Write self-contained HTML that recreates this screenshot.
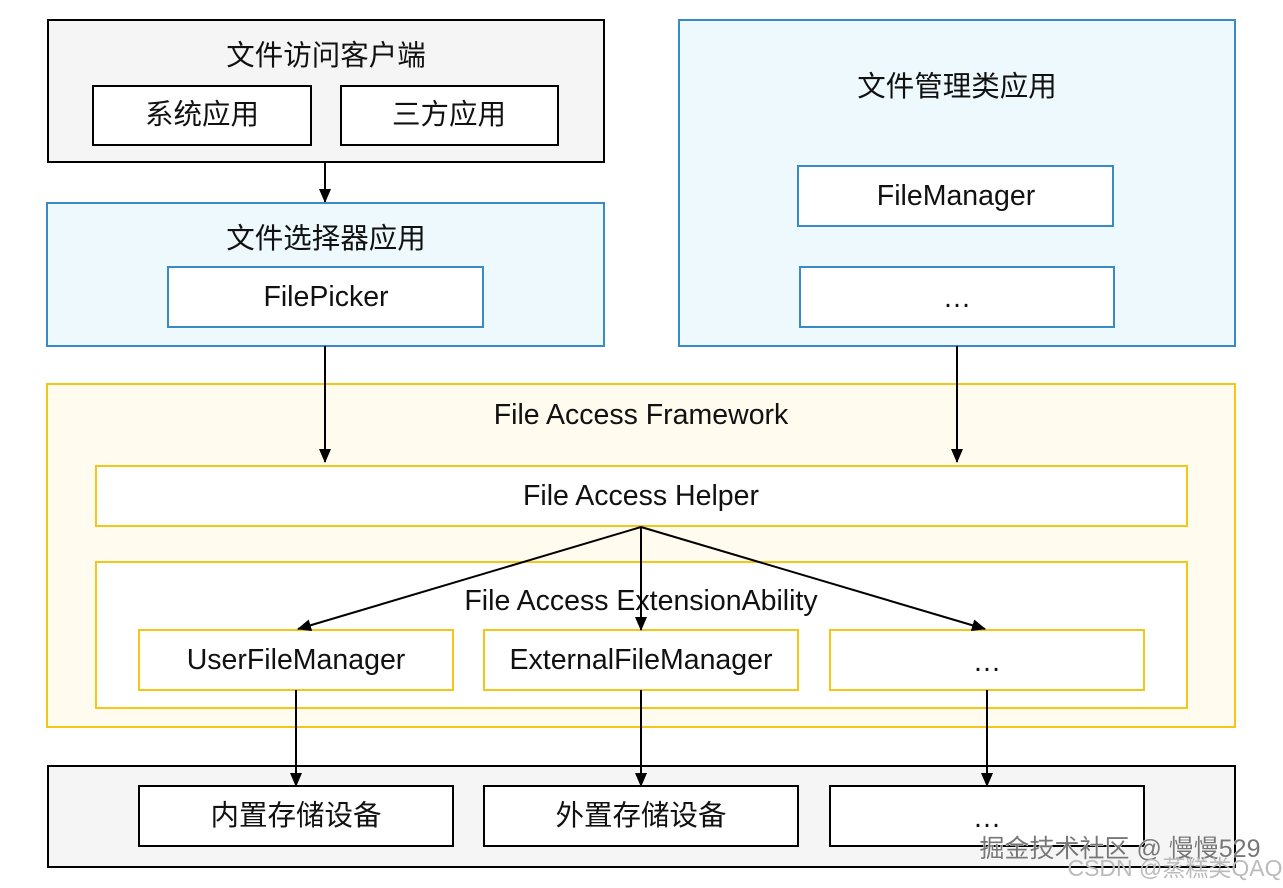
<!DOCTYPE html>
<html><head><meta charset="utf-8"><style>
html,body{margin:0;padding:0;background:#fff}
svg{display:block}
text{font-family:"Liberation Sans","Noto Sans CJK SC",sans-serif;font-size:28.5px;fill:#111;text-anchor:middle;dominant-baseline:central}
</style></head><body>
<svg width="1283" height="888" viewBox="0 0 1283 888" xmlns="http://www.w3.org/2000/svg">
<defs><marker id="a" markerWidth="14" markerHeight="14" refX="13" refY="6" orient="auto" markerUnits="userSpaceOnUse"><path d="M0,0 L14,6 L0,12 z" fill="#000"/></marker></defs>
<rect x="48" y="20" width="556" height="142" fill="#f5f5f5" stroke="#000" stroke-width="2"/>
<text x="326" y="56">文件访问客户端</text>
<rect x="93" y="86" width="218" height="59" fill="#fff" stroke="#000" stroke-width="2"/>
<text x="202" y="115">系统应用</text>
<rect x="341" y="86" width="217" height="59" fill="#fff" stroke="#000" stroke-width="2"/>
<text x="449" y="115">三方应用</text>
<line x1="325" y1="162" x2="325" y2="202" stroke="#000" stroke-width="2" marker-end="url(#a)"/>
<rect x="47" y="203" width="557" height="143" fill="#eef9fd" stroke="#3a8ac8" stroke-width="2"/>
<text x="326" y="239">文件选择器应用</text>
<rect x="168" y="267" width="315" height="60" fill="#fff" stroke="#3a8ac8" stroke-width="2"/>
<text x="326" y="297">FilePicker</text>
<rect x="679" y="20" width="556" height="326" fill="#eef9fd" stroke="#3a8ac8" stroke-width="2"/>
<text x="957" y="87">文件管理类应用</text>
<rect x="798" y="166" width="315" height="60" fill="#fff" stroke="#3a8ac8" stroke-width="2"/>
<text x="956" y="196">FileManager</text>
<rect x="800" y="267" width="314" height="60" fill="#fff" stroke="#3a8ac8" stroke-width="2"/>
<text x="957" y="298">…</text>
<rect x="47" y="384" width="1188" height="343" fill="#fffbee" stroke="#f5c518" stroke-width="2"/>
<text x="641" y="415">File Access Framework</text>
<line x1="325" y1="346" x2="325" y2="462" stroke="#000" stroke-width="2" marker-end="url(#a)"/>
<line x1="957" y1="346" x2="957" y2="462" stroke="#000" stroke-width="2" marker-end="url(#a)"/>
<rect x="96" y="466" width="1091" height="60" fill="#fff" stroke="#f5c518" stroke-width="2"/>
<text x="641" y="496">File Access Helper</text>
<rect x="96" y="562" width="1091" height="146" fill="#fff" stroke="#f5c518" stroke-width="2"/>
<text x="641" y="601">File Access ExtensionAbility</text>
<rect x="139" y="630" width="314" height="60" fill="#fff" stroke="#f5c518" stroke-width="2"/>
<text x="296" y="660">UserFileManager</text>
<rect x="484" y="630" width="314" height="60" fill="#fff" stroke="#f5c518" stroke-width="2"/>
<text x="641" y="660">ExternalFileManager</text>
<rect x="830" y="630" width="314" height="60" fill="#fff" stroke="#f5c518" stroke-width="2"/>
<text x="987" y="662">…</text>
<line x1="641" y1="527" x2="298" y2="629" stroke="#000" stroke-width="2" marker-end="url(#a)"/>
<line x1="641" y1="527" x2="641" y2="630" stroke="#000" stroke-width="2" marker-end="url(#a)"/>
<line x1="641" y1="527" x2="985" y2="629" stroke="#000" stroke-width="2" marker-end="url(#a)"/>
<rect x="48" y="766" width="1187" height="101" fill="#f5f5f5" stroke="#000" stroke-width="2"/>
<line x1="296" y1="690" x2="296" y2="786" stroke="#000" stroke-width="2" marker-end="url(#a)"/>
<line x1="641" y1="690" x2="641" y2="786" stroke="#000" stroke-width="2" marker-end="url(#a)"/>
<line x1="987" y1="690" x2="987" y2="786" stroke="#000" stroke-width="2" marker-end="url(#a)"/>
<rect x="139" y="786" width="314" height="60" fill="#fff" stroke="#000" stroke-width="2"/>
<text x="296" y="816">内置存储设备</text>
<rect x="484" y="786" width="314" height="60" fill="#fff" stroke="#000" stroke-width="2"/>
<text x="641" y="816">外置存储设备</text>
<rect x="830" y="786" width="314" height="60" fill="#fff" stroke="#000" stroke-width="2"/>
<text x="987" y="818">…</text>
<text x="1120" y="849" style="font-size:25px;fill:#777;stroke:#fff;stroke-width:0.8;paint-order:stroke">掘金技术社区 @ 慢慢529</text>
<text x="1175" y="868" style="font-size:23px;fill:#bbb">CSDN @蒸糕类QAQ</text>
</svg>
</body></html>
